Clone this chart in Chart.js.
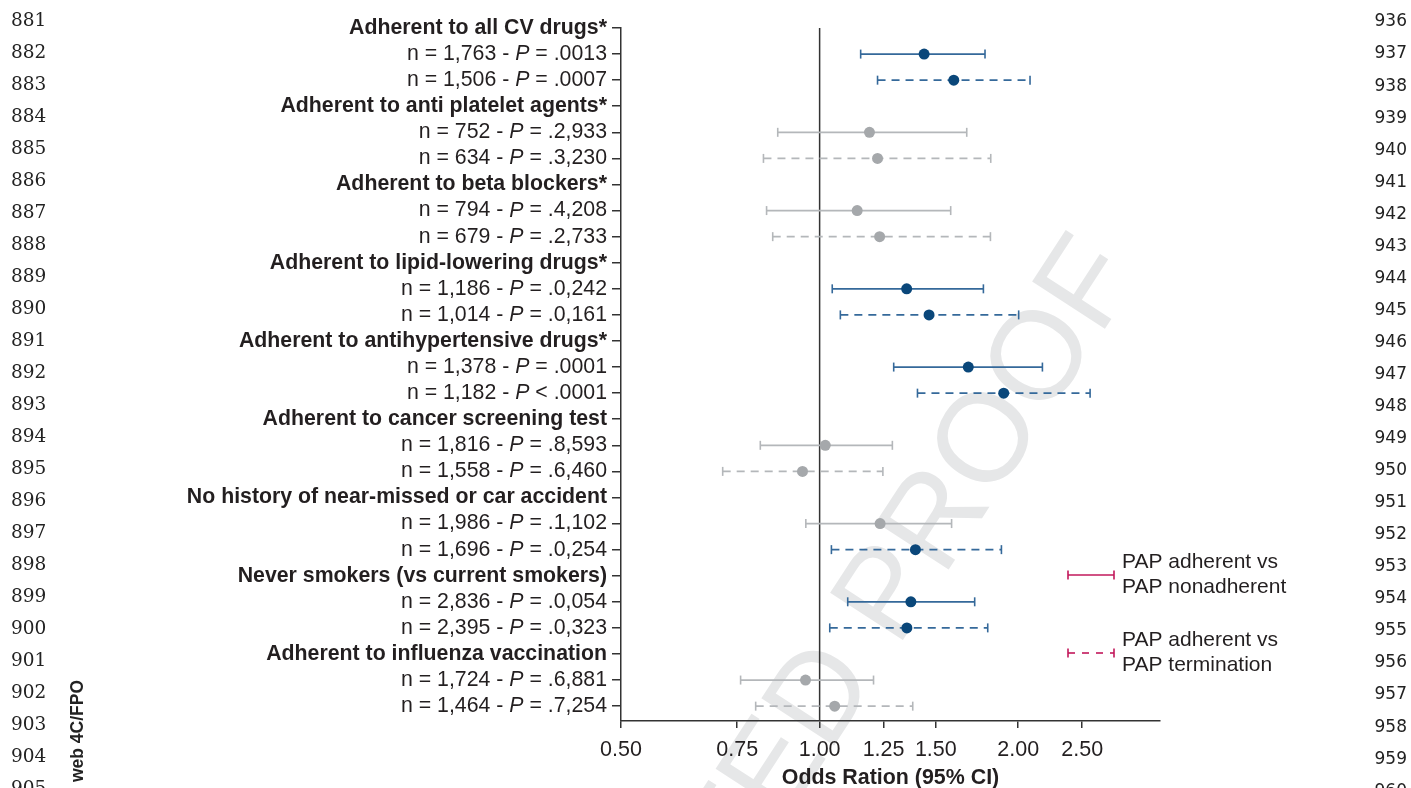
<!DOCTYPE html>
<html>
<head>
<meta charset="utf-8">
<script src="https://cdn.jsdelivr.net/npm/chart.js@4.4.1/dist/chart.umd.min.js"></script>
<style>
  html, body { margin: 0; padding: 0; background: #fff; }
  canvas { display: block; }
</style>
</head>
<body>
<canvas id="forest" width="1411" height="788"></canvas>
<script>
// rows: each group has a header, then the nonadherent (solid) and termination (dashed) comparison
var groups = [
  'Adherent to all CV drugs*',
  'Adherent to anti platelet agents*',
  'Adherent to beta blockers*',
  'Adherent to lipid-lowering drugs*',
  'Adherent to antihypertensive drugs*',
  'Adherent to cancer screening test',
  'No history of near-missed or car accident',
  'Never smokers (vs current smokers)',
  'Adherent to influenza vaccination'
];

var solidN = ['1,763', '752', '794', '1,186', '1,378', '1,816', '1,986', '2,836', '1,724'];
var solidP = ['= .0013', '= .2,933', '= .4,208', '= .0,242', '= .0001', '= .8,593', '= .1,102', '= .0,054', '= .6,881'];
var solidOR = [1.44, 1.19, 1.14, 1.355, 1.68, 1.02, 1.235, 1.375, 0.952];
var solidLo = [1.154, 0.864, 0.831, 1.045, 1.295, 0.813, 0.953, 1.103, 0.759];
var solidHi = [1.781, 1.671, 1.58, 1.771, 2.176, 1.289, 1.585, 1.718, 1.207];

var dashN = ['1,506', '634', '679', '1,014', '1,182', '1,558', '1,696', '2,395', '1,464'];
var dashP = ['= .0007', '= .3,230', '= .2,733', '= .0,161', '< .0001', '= .6,460', '= .0,254', '= .0,323', '= .7,254'];
var dashOR = [1.597, 1.224, 1.233, 1.465, 1.901, 0.942, 1.397, 1.356, 1.054];
var dashLo = [1.224, 0.822, 0.849, 1.075, 1.407, 0.713, 1.042, 1.036, 0.80];
var dashHi = [2.084, 1.817, 1.815, 2.003, 2.57, 1.247, 1.886, 1.798, 1.384];

var xTicks = [0.5, 0.75, 1, 1.25, 1.5, 2, 2.5];
var xTickLabels = ['0.50', '0.75', '1.00', '1.25', '1.50', '2.00', '2.50'];

var legendLabels = [['PAP adherent vs', 'PAP nonadherent'], ['PAP adherent vs', 'PAP termination']];

var FONT = '"Liberation Sans", Arial, Helvetica, sans-serif';
var TEXT = '#231f20';
var AXIS = '#333333';
var BLUE_PT = '#0a477a', BLUE_LN = '#35699a';
var GREY_PT = '#a5a8ab', GREY_LN = '#b4b7ba';
var LEGEND = '#c2185b';
var LBL = 21.3; // label font size

var rowCount = groups.length * 3;

// point estimates (drawn on top, so they go first)
var datasets = [];
[[solidOR, solidLo, 1], [dashOR, dashLo, 2]].forEach(function (s) {
  datasets.push({
    data: s[0].map(function (v, g) { return { x: v, y: g * 3 + s[2] }; }),
    pointRadius: 5.5,
    pointHoverRadius: 5.5,
    pointBorderWidth: 0,
    pointBackgroundColor: s[1].map(function (lo) { return lo > 1 ? BLUE_PT : GREY_PT; }),
    showLine: false
  });
});

// confidence intervals with end caps
[[solidLo, solidHi, 1, []], [dashLo, dashHi, 2, [8, 6]]].forEach(function (s) {
  s[0].forEach(function (lo, g) {
    var col = lo > 1 ? BLUE_LN : GREY_LN;
    datasets.push({
      data: [{ x: lo, y: g * 3 + s[2] }, { x: s[1][g], y: g * 3 + s[2] }],
      showLine: true,
      borderColor: col,
      borderWidth: 1.8,
      borderDash: s[3],
      pointStyle: 'line',
      pointRotation: 90,
      pointRadius: 4.5,
      pointHoverRadius: 4.5,
      pointBorderColor: col,
      pointBorderWidth: 1.6
    });
  });
});

function drawStat(ctx, n, p, right, y) {
  var a = 'n = ' + n + ' - ', b = 'P', c = ' ' + p;
  var reg = LBL + 'px ' + FONT, ital = 'italic ' + LBL + 'px ' + FONT;
  ctx.font = reg;
  var wa = ctx.measureText(a).width, wc = ctx.measureText(c).width;
  ctx.font = ital;
  var wb = ctx.measureText(b).width;
  var x = right - wa - wb - wc;
  ctx.textAlign = 'left';
  ctx.font = reg;
  ctx.fillText(a, x, y);
  ctx.font = ital;
  ctx.fillText(b, x + wa, y);
  ctx.font = reg;
  ctx.fillText(c, x + wa + wb, y);
}

var pagePlugin = {
  id: 'page',
  beforeDraw: function (chart) {
    var ctx = chart.ctx;
    ctx.save();
    ctx.fillStyle = '#ffffff';
    ctx.fillRect(0, 0, chart.width, chart.height);
    // proof watermark
    ctx.translate(1112, 254);
    ctx.rotate(-57 * Math.PI / 180);
    ctx.font = '126px ' + FONT;
    ctx.fillStyle = '#e6e7e8';
    ctx.textAlign = 'right';
    ctx.textBaseline = 'middle';
    ctx.fillText('CORRECTED PROOF', 0, 0);
    ctx.restore();
  },
  beforeDatasetsDraw: function (chart) {
    var ctx = chart.ctx, a = chart.chartArea, x = chart.scales.x.getPixelForValue(1);
    ctx.save();
    ctx.strokeStyle = AXIS;
    ctx.lineWidth = 1.5;
    ctx.beginPath();
    ctx.moveTo(x, a.top);
    ctx.lineTo(x, a.bottom);
    ctx.stroke();
    ctx.restore();
  },
  afterDraw: function (chart) {
    var ctx = chart.ctx, y = chart.scales.y, a = chart.chartArea;
    ctx.save();
    ctx.fillStyle = TEXT;
    ctx.textBaseline = 'middle';
    var right = y.right - 14;
    groups.forEach(function (name, g) {
      ctx.font = 'bold ' + LBL + 'px ' + FONT;
      ctx.textAlign = 'right';
      ctx.fillText(name, right, y.getPixelForValue(g * 3));
      drawStat(ctx, solidN[g], solidP[g], right, y.getPixelForValue(g * 3 + 1));
      drawStat(ctx, dashN[g], dashP[g], right, y.getPixelForValue(g * 3 + 2));
    });

    // legend
    var lx1 = a.right - 92, lx2 = a.right - 46;
    [[575, []], [653, [7, 7]]].forEach(function (item, i) {
      var ly = item[0];
      ctx.strokeStyle = LEGEND;
      ctx.lineWidth = 1.6;
      ctx.setLineDash(item[1]);
      ctx.beginPath();
      ctx.moveTo(lx1, ly); ctx.lineTo(lx2, ly);
      ctx.stroke();
      ctx.setLineDash([]);
      ctx.beginPath();
      ctx.moveTo(lx1, ly - 4.5); ctx.lineTo(lx1, ly + 4.5);
      ctx.moveTo(lx2, ly - 4.5); ctx.lineTo(lx2, ly + 4.5);
      ctx.stroke();
      ctx.fillStyle = TEXT;
      ctx.font = '21px ' + FONT;
      ctx.textAlign = 'left';
      ctx.fillText(legendLabels[i][0], lx2 + 8, ly - 13);
      ctx.fillText(legendLabels[i][1], lx2 + 8, ly + 12);
    });

    // page line numbers
    ctx.fillStyle = '#222';
    for (var i = 0; i < 25; i++) {
      ctx.font = '18.5px "DejaVu Serif", serif';
      ctx.textAlign = 'left';
      ctx.fillText(String(881 + i), 11, 21 + 32 * i);
      ctx.font = '17px "DejaVu Sans", sans-serif';
      ctx.textAlign = 'right';
      ctx.fillText(String(936 + i), 1407, 22 + 32.05 * i);
    }

    // production note
    ctx.translate(78, 680);
    ctx.rotate(-Math.PI / 2);
    ctx.font = 'bold 17.5px ' + FONT;
    ctx.textAlign = 'right';
    ctx.fillText('Color online, web 4C/FPO', 0, 0);
    ctx.restore();
  }
};

new Chart(document.getElementById('forest'), {
  type: 'scatter',
  data: { datasets: datasets },
  options: {
    responsive: false,
    animation: false,
    events: [],
    layout: { padding: { left: 0, right: 251, top: 28, bottom: 0 } },
    plugins: {
      legend: { display: false },
      tooltip: { enabled: false }
    },
    scales: {
      x: {
        type: 'logarithmic',
        min: 0.5,
        max: 3.28,
        afterBuildTicks: function (s) {
          s.ticks = xTicks.map(function (v) { return { value: v }; });
        },
        afterFit: function (s) { s.height = 67; },
        ticks: {
          callback: function (v, i) { return xTickLabels[i]; },
          autoSkip: false,
          maxRotation: 0,
          padding: 9,
          color: TEXT,
          font: { family: FONT, size: 21.5 }
        },
        grid: { drawOnChartArea: false, tickLength: 7, color: AXIS, lineWidth: 1.5 },
        border: { color: AXIS, width: 1.5 },
        title: {
          display: true,
          text: 'Odds Ration (95% CI)',
          color: TEXT,
          font: { family: FONT, size: 21.4, weight: 'bold' },
          padding: { top: 1, bottom: -3 }
        }
      },
      y: {
        type: 'linear',
        reverse: true,
        min: 0,
        max: 26.57,
        afterBuildTicks: function (s) {
          var t = [];
          for (var i = 0; i < rowCount; i++) t.push({ value: i });
          s.ticks = t;
        },
        afterFit: function (s) { s.width = 621; },
        ticks: { display: false },
        grid: { drawOnChartArea: false, tickLength: 9, color: AXIS, lineWidth: 1.5 },
        border: { color: AXIS, width: 1.5 }
      }
    }
  },
  plugins: [pagePlugin]
});
</script>
</body>
</html>
